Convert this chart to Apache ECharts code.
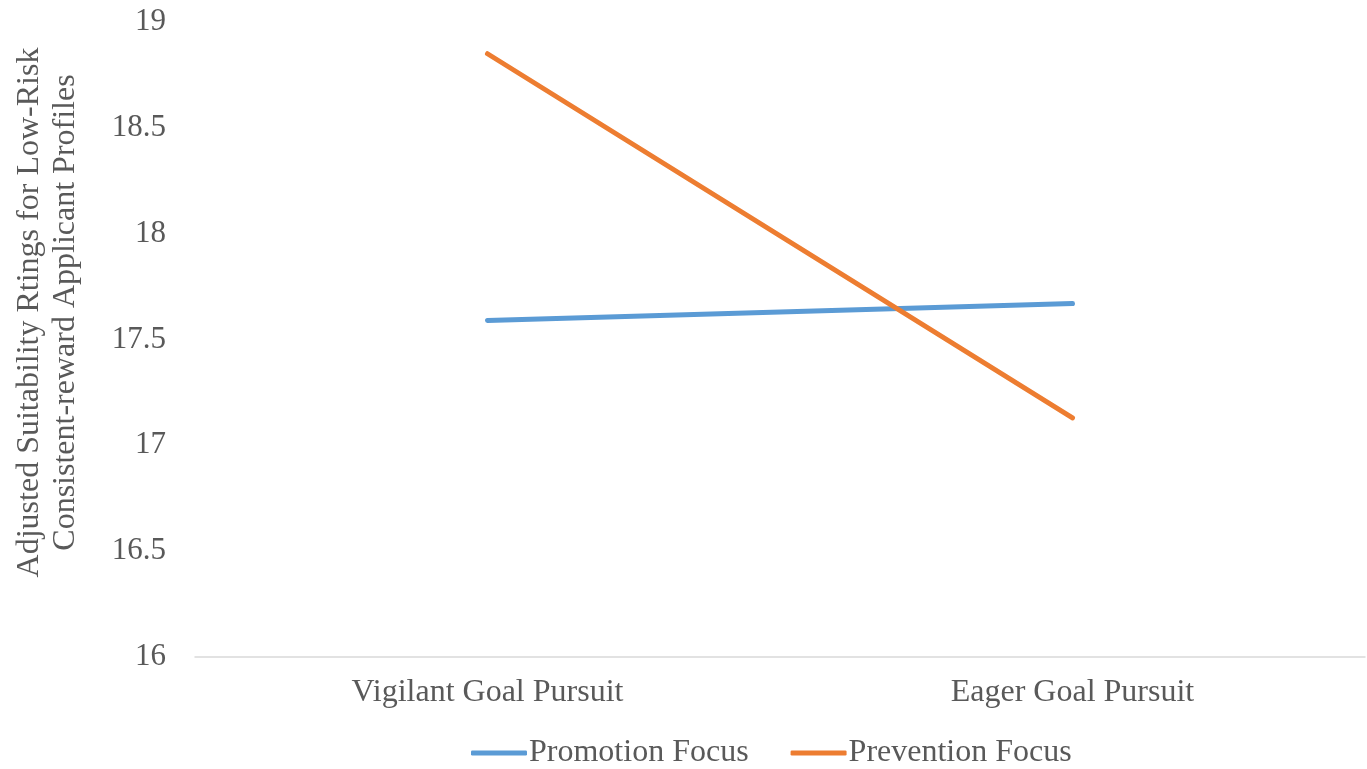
<!DOCTYPE html>
<html>
<head>
<meta charset="utf-8">
<script src="https://cdn.jsdelivr.net/npm/echarts@6/dist/echarts.min.js"></script>
<style>
  html, body { margin: 0; padding: 0; background: #fff; }
  #chart { width: 1367px; height: 769px; }
</style>
</head>
<body>
<div id="chart"></div>
<script>
// Goal pursuit conditions on the category axis
const categories = ['Vigilant Goal Pursuit', 'Eager Goal Pursuit'];
// Adjusted suitability ratings per regulatory focus
const promotionFocus = [17.59, 17.67];
const preventionFocus = [18.85, 17.13];
const seriesNames = ['Promotion Focus', 'Prevention Focus'];
const yAxisTitle = 'Adjusted Suitability Rtings for Low-Risk\nConsistent-reward Applicant Profiles';

const FONT = '"Liberation Serif", "Times New Roman", serif';
const TEXT = '#595959';

const chart = echarts.init(document.getElementById('chart'));
chart.setOption({
  animation: false,
  textStyle: { fontFamily: FONT, color: TEXT },
  grid: { left: 195, right: 2, top: 22, bottom: 112, containLabel: false },
  legend: {
    top: 732,
    left: 466,
    itemWidth: 56,
    itemHeight: 5,
    itemGap: 42,
    icon: 'roundRect',
    textStyle: { fontFamily: FONT, fontSize: 32, color: TEXT, padding: [0, 0, 0, -3] },
    data: seriesNames
  },
  xAxis: {
    type: 'category',
    data: categories,
    boundaryGap: true,
    axisLine: { lineStyle: { color: '#d9d9d9', width: 1.5 } },
    axisTick: { show: false },
    axisLabel: { fontFamily: FONT, fontSize: 32, color: TEXT, margin: 20 }
  },
  yAxis: {
    type: 'value',
    min: 16,
    max: 19,
    interval: 0.5,
    splitLine: { show: false },
    axisLine: { show: false },
    axisTick: { show: false },
    axisLabel: { fontFamily: FONT, fontSize: 31, color: TEXT, margin: 29 },
    name: yAxisTitle,
    nameLocation: 'middle',
    nameGap: 111,
    nameTextStyle: {
      fontFamily: FONT, fontSize: 32, color: TEXT, lineHeight: 36, align: 'center',
      padding: [0, 0, 0, 54]
    }
  },
  series: [
    {
      name: seriesNames[0],
      type: 'line',
      data: promotionFocus,
      symbol: 'none',
      lineStyle: { color: '#5B9BD5', width: 5, cap: 'round' },
      itemStyle: { color: '#5B9BD5' }
    },
    {
      name: seriesNames[1],
      type: 'line',
      data: preventionFocus,
      symbol: 'none',
      lineStyle: { color: '#ED7D31', width: 5, cap: 'round' },
      itemStyle: { color: '#ED7D31' }
    }
  ]
});
</script>
</body>
</html>
